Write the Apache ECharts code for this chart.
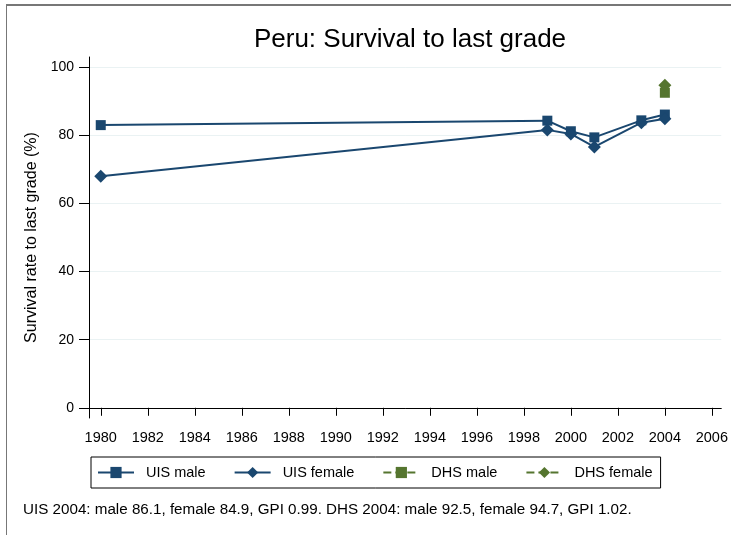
<!DOCTYPE html>
<html>
<head>
<meta charset="utf-8">
<script src="https://cdn.jsdelivr.net/npm/echarts@6/dist/echarts.min.js"></script>
<style>
  html, body { margin: 0; padding: 0; background: #fff; }
  #chart { width: 731px; height: 535px; }
</style>
</head>
<body>
<div id="chart"></div>
<script>
  // data
  const uisYears = [1980, 1999, 2000, 2001, 2003, 2004];
  const uisMale = [83.0, 84.3, 81.2, 79.4, 84.4, 86.1];
  const uisFemale = [68.0, 81.6, 80.4, 76.6, 83.7, 84.9];
  const dhsYears = [2004];
  const dhsMale = [92.5];
  const dhsFemale = [94.7];
  const xTicks = [1980, 1982, 1984, 1986, 1988, 1990, 1992, 1994, 1996, 1998, 2000, 2002, 2004, 2006];
  const yTicks = [0, 20, 40, 60, 80, 100];

  const navy = '#1a476f';
  const green = '#55752f';
  const font = 'Liberation Sans, Arial, sans-serif';

  const pairs = (xs, ys) => xs.map((x, i) => [x, ys[i]]);

  const chart = echarts.init(document.getElementById('chart'));

  const option = {
    backgroundColor: '#fff',
    animation: false,
    title: {
      text: 'Peru: Survival to last grade',
      left: 405,
      textAlign: 'center',
      top: 22,
      textStyle: { fontFamily: font, fontSize: 26, fontWeight: 'normal', color: '#000' }
    },
    grid: { left: 89, right: 9, top: 57, bottom: 117 },
    xAxis: {
      type: 'value',
      min: 1979.5,
      max: 2006.4,
      axisLine: { show: true, lineStyle: { color: '#000', width: 1 } },
      axisTick: { show: true, length: 8, customValues: xTicks, lineStyle: { color: '#000' } },
      axisLabel: {
        customValues: xTicks,
        color: '#000', fontFamily: font, fontSize: 14.5, margin: 12,
        formatter: v => String(v)
      },
      splitLine: { show: false }
    },
    yAxis: {
      type: 'value',
      min: -3,
      max: 103,
      name: 'Survival rate to last grade (%)',
      nameLocation: 'middle',
      nameGap: 38,
      nameTextStyle: { fontFamily: font, fontSize: 16, color: '#000' },
      axisLine: { show: true, lineStyle: { color: '#000', width: 1 } },
      axisTick: { show: true, length: 10, customValues: yTicks, lineStyle: { color: '#000' } },
      axisLabel: { customValues: yTicks, color: '#000', fontFamily: font, fontSize: 14, margin: 15 },
      splitLine: { show: true, lineStyle: { color: '#eaf2f3', width: 1 } }
    },
    legend: {
      left: 91,
      top: 457,
      width: 580,
      padding: [8, 8, 8, 6],
      borderColor: '#000',
      borderWidth: 1,
      itemWidth: 36,
      itemHeight: 14,
      itemGap: 28,
      textStyle: { fontFamily: font, fontSize: 14.5, color: '#000', padding: [0, 0, 0, 7] },
      data: ['UIS male', 'UIS female', 'DHS male', 'DHS female']
    },
    graphic: [
      {
        type: 'text',
        left: 23,
        top: 502,
        style: {
          text: 'UIS 2004: male 86.1, female 84.9, GPI 0.99. DHS 2004: male 92.5, female 94.7, GPI 1.02.',
          font: '15.2px ' + font,
          fill: '#000'
        }
      },
      // outer frame of the graph region (cropped at right and bottom)
      { type: 'line', shape: { x1: 6, y1: 5, x2: 731, y2: 5 }, style: { stroke: '#777', lineWidth: 2 } },
      { type: 'line', shape: { x1: 6.5, y1: 5, x2: 6.5, y2: 535 }, style: { stroke: '#777', lineWidth: 1 } }
    ],
    series: [
      {
        name: 'UIS male', type: 'line', data: pairs(uisYears, uisMale),
        symbol: 'rect', symbolSize: 10,
        itemStyle: { color: navy }, lineStyle: { color: navy, width: 2 }
      },
      {
        name: 'UIS female', type: 'line', data: pairs(uisYears, uisFemale),
        symbol: 'diamond', symbolSize: 13,
        itemStyle: { color: navy }, lineStyle: { color: navy, width: 2 }
      },
      {
        name: 'DHS male', type: 'line', data: pairs(dhsYears, dhsMale),
        symbol: 'rect', symbolSize: 10, showAllSymbol: true,
        itemStyle: { color: green }, lineStyle: { color: green, width: 1.5, type: 'dashed' }
      },
      {
        name: 'DHS female', type: 'line', data: pairs(dhsYears, dhsFemale),
        symbol: 'diamond', symbolSize: 13, showAllSymbol: true,
        itemStyle: { color: green }, lineStyle: { color: green, width: 1.5, type: 'dashed' }
      }
    ]
  };

  chart.setOption(option);
</script>
</body>
</html>
